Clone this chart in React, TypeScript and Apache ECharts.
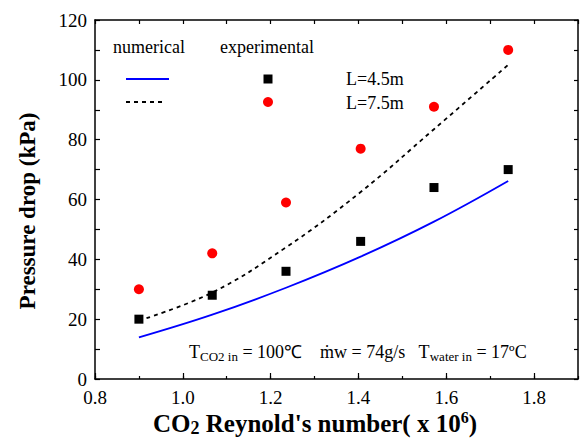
import React, { useEffect, useRef } from 'react';
import * as echarts from 'echarts';

const reynolds = [0.9, 1.067, 1.235, 1.405, 1.572, 1.741];
const numericalL45 = [13.9, 21.5, 30.5, 40.9, 52.6, 66.2];
const numericalL75 = [19.5, 28.9, 44.0, 62.5, 83.5, 105.0];
const experimentalL45 = [20, 28, 36, 46, 64, 70];
const experimentalL75 = [30, 42, 59, 77, 91, 110];
const legendLabels = ['L=4.5m', 'L=7.5m'];

const SERIF = '"Liberation Serif", "Times New Roman", serif';

export default function App() {
  const ref = useRef<HTMLDivElement>(null);
  useEffect(() => {
    if (!ref.current) return;
    const chart = echarts.init(ref.current, undefined, { renderer: 'svg' });
    const axisLine = { show: true, onZero: false, lineStyle: { color: '#000', width: 1.5 } };
    const tickStyle = { color: '#000', width: 1.2 };
    const pairs = (ys: number[]) => reynolds.map((x, i) => [x, ys[i]]);
    chart.setOption({
      animation: false,
      backgroundColor: '#fff',
      grid: { left: 95, right: 3, top: 20, bottom: 62 },
      xAxis: [
        {
          type: 'value', min: 0.8, max: 1.9, interval: 0.2, position: 'bottom',
          axisLine, splitLine: { show: false },
          axisTick: { show: true, inside: true, length: 6, lineStyle: tickStyle },
          axisLabel: {
            show: true, showMaxLabel: false, margin: 9, fontSize: 19, fontFamily: SERIF, color: '#000',
            formatter: (v: number) => v.toFixed(1),
          },
        },
        {
          type: 'value', min: 0.8, max: 1.9, interval: 0.1, position: 'bottom',
          axisLine: { show: false }, splitLine: { show: false },
          axisTick: { show: true, inside: true, length: 3, lineStyle: tickStyle },
          axisLabel: { show: false },
        },
        {
          type: 'value', min: 0.8, max: 1.9, interval: 0.1, position: 'top',
          axisLine, splitLine: { show: false },
          axisTick: { show: true, inside: true, length: 4, lineStyle: tickStyle },
          axisLabel: { show: false },
        },
      ],
      yAxis: [
        {
          type: 'value', min: 0, max: 120, interval: 20, position: 'left',
          axisLine, splitLine: { show: false },
          axisTick: { show: true, inside: true, length: 5, lineStyle: tickStyle },
          minorTick: { show: true, splitNumber: 2, length: 5, lineStyle: tickStyle },
          axisLabel: { show: true, margin: 8, fontSize: 19, fontFamily: SERIF, color: '#000' },
        },
        {
          type: 'value', min: 0, max: 120, interval: 10, position: 'right',
          axisLine, splitLine: { show: false },
          axisTick: { show: true, inside: true, length: 4, lineStyle: tickStyle },
          axisLabel: { show: false },
        },
      ],
      series: [
        {
          name: 'numerical L=4.5m', type: 'line', xAxisIndex: 0, yAxisIndex: 0,
          data: pairs(numericalL45), smooth: 0.4, symbol: 'none',
          lineStyle: { color: '#0000ff', width: 1.8 },
        },
        {
          name: 'numerical L=7.5m', type: 'line', xAxisIndex: 0, yAxisIndex: 0,
          data: pairs(numericalL75), smooth: 0.4, symbol: 'none',
          lineStyle: { color: '#000', width: 1.8, type: [4, 4] },
        },
        {
          name: 'experimental L=4.5m', type: 'scatter', xAxisIndex: 0, yAxisIndex: 0,
          data: pairs(experimentalL45), symbol: 'rect', symbolSize: 9,
          itemStyle: { color: '#000', opacity: 1 },
        },
        {
          name: 'experimental L=7.5m', type: 'scatter', xAxisIndex: 0, yAxisIndex: 0,
          data: pairs(experimentalL75), symbol: 'circle', symbolSize: 10,
          itemStyle: { color: '#ff0000', opacity: 1 },
        },
      ],
      graphic: [
        { type: 'text', x: 113, y: 47, style: { text: 'numerical', font: `18px ${SERIF}`, fill: '#000', verticalAlign: 'middle' } },
        { type: 'text', x: 220, y: 47, style: { text: 'experimental', font: `18px ${SERIF}`, fill: '#000', verticalAlign: 'middle' } },
        { type: 'line', shape: { x1: 126, y1: 79, x2: 169, y2: 79 }, style: { stroke: '#0000ff', lineWidth: 1.8 } },
        { type: 'line', shape: { x1: 126, y1: 102, x2: 166, y2: 102 }, style: { stroke: '#000', lineWidth: 1.8, lineDash: [4, 4] } },
        { type: 'rect', shape: { x: 263.5, y: 74.5, width: 9, height: 9 }, style: { fill: '#000' } },
        { type: 'circle', shape: { cx: 268, cy: 102, r: 5 }, style: { fill: '#ff0000' } },
        { type: 'text', x: 346, y: 79, style: { text: legendLabels[0], font: `18px ${SERIF}`, fill: '#000', verticalAlign: 'middle' } },
        { type: 'text', x: 346, y: 103, style: { text: legendLabels[1], font: `18px ${SERIF}`, fill: '#000', verticalAlign: 'middle' } },
        {
          type: 'text', x: 189, y: 352,
          style: {
            text: '{a|T}{s|CO2 in}{a| = 100℃    ṁw = 74g/s   T}{s|water in}{a| = 17ºC}',
            verticalAlign: 'middle', fill: '#000',
            rich: {
              a: { fontSize: 18, fontFamily: SERIF, lineHeight: 22, fill: '#000' },
              s: { fontSize: 13, fontFamily: SERIF, lineHeight: 14, verticalAlign: 'bottom', fill: '#000' },
            },
          },
        },
        {
          type: 'text', x: 315, y: 423,
          style: {
            text: "{b|CO}{sub|2}{b| Reynold's number( x 10}{sup|6}{b|)}",
            align: 'center', verticalAlign: 'middle', fill: '#000',
            rich: {
              b: { fontSize: 25, fontWeight: 'bold', fontFamily: SERIF, lineHeight: 28, fill: '#000' },
              sub: { fontSize: 18, fontWeight: 'bold', fontFamily: SERIF, lineHeight: 21, verticalAlign: 'bottom', fill: '#000' },
              sup: { fontSize: 16, fontWeight: 'bold', fontFamily: SERIF, lineHeight: 19, verticalAlign: 'top', fill: '#000' },
            },
          },
        },
        {
          type: 'text', x: 27, y: 211, rotation: Math.PI / 2,
          style: {
            text: 'Pressure drop (kPa)', font: `bold 23px ${SERIF}`, fill: '#000',
            align: 'center', verticalAlign: 'middle',
          },
        },
      ],
    });
    return () => chart.dispose();
  }, []);
  return <div ref={ref} style={{ width: 581, height: 441, position: 'absolute', left: 0, top: 0 }} />;
}
